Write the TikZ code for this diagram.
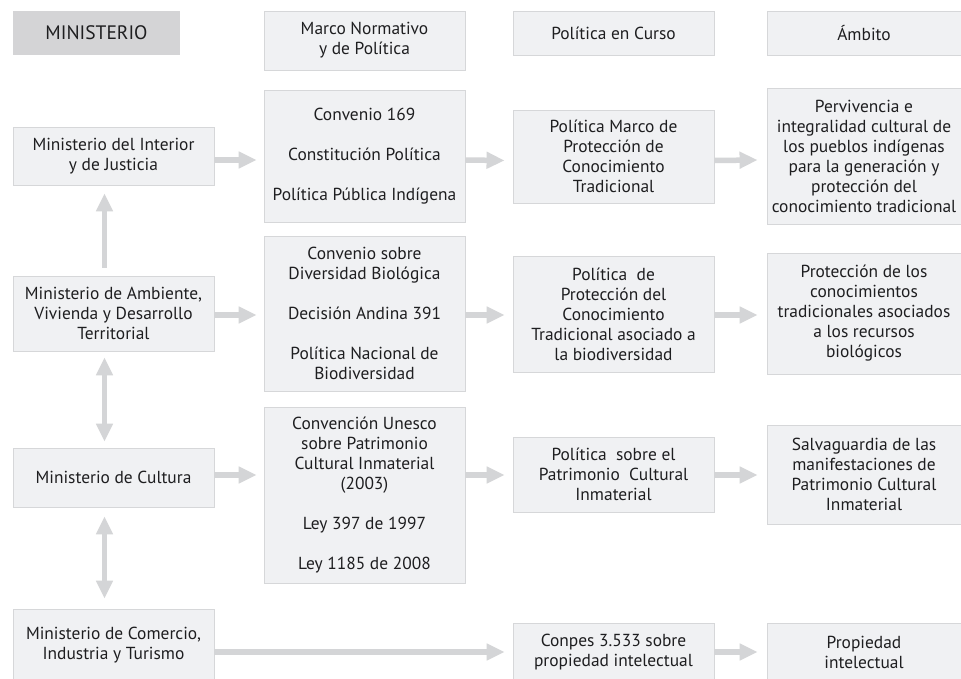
\documentclass[tikz,border=0pt]{standalone}
\usepackage{fontspec}
\setmainfont{PT Sans}
\usetikzlibrary{arrows.meta}
\definecolor{boxfill}{RGB}{240,241,243}
\definecolor{boxline}{RGB}{214,215,217}
\definecolor{headfill}{RGB}{212,212,214}
\definecolor{arrowgray}{RGB}{212,213,215}
\definecolor{txt}{RGB}{30,30,32}
\tikzset{
  box/.style={draw=boxline, fill=boxfill, line width=0.9pt, inner sep=0pt,
    align=center, text=txt, font=\fontsize{17.4}{20}\selectfont},
  headbox/.style={fill=headfill, inner sep=0pt, align=center, text=txt,
    font=\fontsize{19.5}{22}\selectfont},
  arr/.style={draw=arrowgray, line width=5.5pt,
    -{Triangle[length=18pt,width=16pt,fill=arrowgray]}},
  darr/.style={draw=arrowgray, line width=5.5pt,
    {Triangle[length=18pt,width=16pt,fill=arrowgray]}-{Triangle[length=18pt,width=16pt,fill=arrowgray]}}
}
\begin{document}
\begin{tikzpicture}[x=1pt,y=-1pt]
\useasboundingbox (0,0) rectangle (961,678);
\fill[white] (0,0) rectangle (961,678);
% headers
\node[headbox, minimum width=167pt, minimum height=44pt] (h1) at (96.5,33) {MINISTERIO};
\node[box, minimum width=201pt, minimum height=59pt] (h2) at (364.5,40.5) {Marco Normativo\\y de Política};
\node[box, minimum width=201pt, minimum height=44pt] (h3) at (613.5,33) {Política en Curso};
\node[box, minimum width=194pt, minimum height=44pt] (h4) at (864,33) {Ámbito};
% row 1
\node[box, minimum width=201pt, minimum height=58pt] (m1) at (113.5,156) {Ministerio del Interior\\y de Justicia};
\node[box, minimum width=201pt, minimum height=132pt] (n1) at (364.5,156) {Convenio 169\\[20pt]Constitución Política\\[20pt]Política Pública Indígena};
\node[box, minimum width=201pt, minimum height=93pt] (p1) at (613.5,156.5) {Política Marco de\\Protección de\\Conocimiento\\Tradicional};
\node[box, minimum width=194pt, minimum height=136pt] (a1) at (864,156) {Pervivencia e\\integralidad cultural de\\los pueblos indígenas\\para la generación y\\protección del\\\makebox[180pt]{conocimiento tradicional}};
% row 2
\node[box, minimum width=201pt, minimum height=75pt] (m2) at (113.5,313.5) {Ministerio de Ambiente,\\Vivienda y Desarrollo\\Territorial};
\node[box, minimum width=201pt, minimum height=155pt] (n2) at (364.5,313.5) {Convenio sobre\\Diversidad Biológica\\[20pt]Decisión Andina 391\\[20pt]Política Nacional de\\Biodiversidad};
\node[box, minimum width=201pt, minimum height=116pt] (p2) at (613.5,314) {Política\ \ de\\Protección del\\Conocimiento\\Tradicional asociado a\\la biodiversidad};
\node[box, minimum width=194pt, minimum height=121pt] (a2) at (864,313.5) {Protección de los\\conocimientos\\\makebox[180pt]{tradicionales asociados}\\a los recursos\\biológicos};
% row 3
\node[box, minimum width=201pt, minimum height=59pt] (m3) at (113.5,477.5) {Ministerio de Cultura};
\node[box, minimum width=201pt, minimum height=176pt] (n3) at (364.5,495) {Convención Unesco\\sobre Patrimonio\\Cultural Inmaterial\\(2003)\\[20pt]Ley 397 de 1997\\[20pt]Ley 1185 de 2008};
\node[box, minimum width=201pt, minimum height=75pt] (p3) at (613.5,474.5) {Política\ \ sobre el\\Patrimonio\ \ Cultural\\Inmaterial};
\node[box, minimum width=194pt, minimum height=99pt] (a3) at (864,474.5) {Salvaguardia de las\\manifestaciones de\\Patrimonio Cultural\\Inmaterial};
% row 4
\node[box, minimum width=201pt, minimum height=73pt] (m4) at (113.5,645.5) {Ministerio de Comercio,\\Industria y Turismo};
\node[box, minimum width=201pt, minimum height=58pt] (p4) at (613.5,652) {Conpes 3.533 sobre\\propiedad intelectual};
\node[box, minimum width=194pt, minimum height=58pt] (a4) at (864,652) {Propiedad\\intelectual};
% horizontal arrows
\draw[arr] ([yshift=-4pt]m1.east) -- ([xshift=-7pt,yshift=-4pt]n1.west);
\draw[arr] ([yshift=-4pt]n1.east) -- ([xshift=-8pt,yshift=-4pt]p1.west);
\draw[arr] ([yshift=-4pt]p1.east) -- ([xshift=-9pt,yshift=-4pt]a1.west);
\draw[arr] ([yshift=-1.5pt]m2.east) -- ([xshift=-7pt,yshift=-1.5pt]m2.east -| n2.west);
\draw[arr] ([yshift=-1.5pt]m2.east -| n2.east) -- ([xshift=-8pt,yshift=-1.5pt]m2.east -| p2.west);
\draw[arr] ([yshift=-1.5pt]m2.east -| p2.east) -- ([xshift=-9pt,yshift=-1.5pt]m2.east -| a2.west);
\draw[arr] ([yshift=2.5pt]m3.east) -- ([xshift=-7pt,yshift=2.5pt]m3.east -| n3.west);
\draw[arr] ([yshift=2.5pt]m3.east -| n3.east) -- ([xshift=-8pt,yshift=2.5pt]m3.east -| p3.west);
\draw[arr] ([yshift=2.5pt]m3.east -| p3.east) -- ([xshift=-9pt,yshift=2.5pt]m3.east -| a3.west);
\draw[arr] (m4.east |- p4.west) -- ([xshift=-8pt]p4.west);
\draw[arr] (p4.east) -- ([xshift=-9pt]a4.west);
% vertical arrows
\draw[arr] ([xshift=-9pt,yshift=8pt]m2.north) -- ([xshift=-9pt,yshift=-8pt]m1.south);
\draw[darr] ([xshift=-9pt,yshift=-6pt]m2.south) -- ([xshift=-9pt,yshift=6pt]m3.north);
\draw[darr] ([xshift=-9pt,yshift=-9pt]m3.south) -- ([xshift=-9pt,yshift=10pt]m4.north);
\end{tikzpicture}
\end{document}
